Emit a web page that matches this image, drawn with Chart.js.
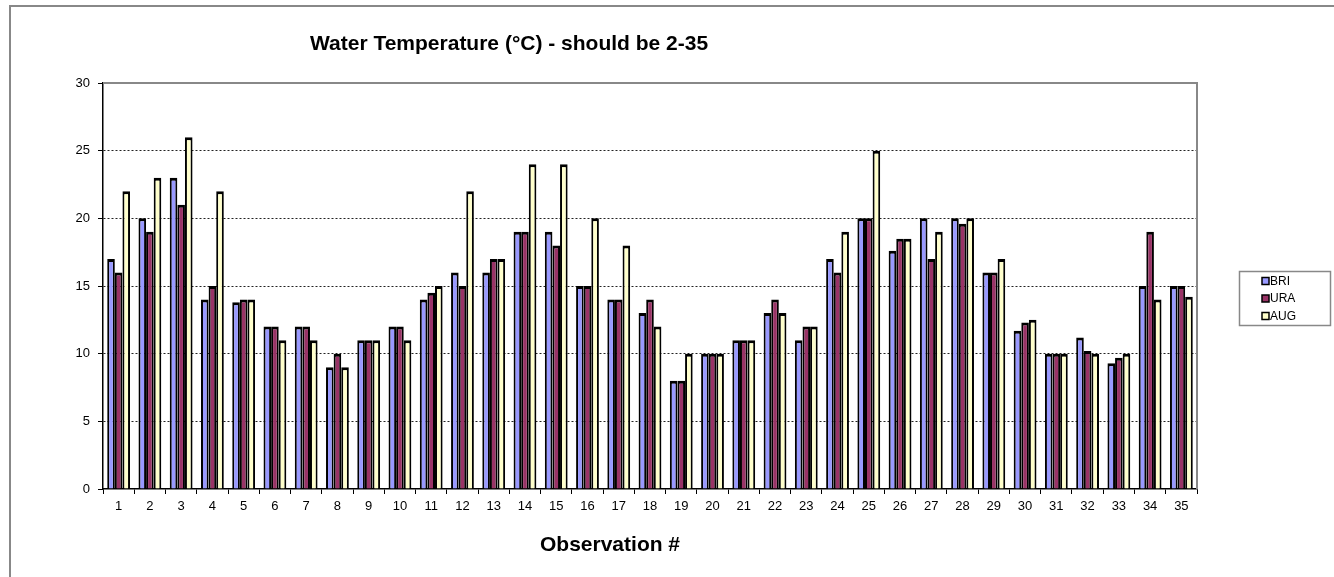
<!DOCTYPE html>
<html>
<head>
<meta charset="utf-8">
<script src="https://cdn.jsdelivr.net/npm/chart.js@4.4.0/dist/chart.umd.min.js"></script>
<style>
  html, body { margin: 0; padding: 0; background: #fff; }
  canvas { display: block; }
</style>
</head>
<body>
<canvas id="temp-chart" width="1334" height="577" style="width:1334px;height:577px"></canvas>
<script>
const observations = ['1','2','3','4','5','6','7','8','9','10','11','12','13','14','15','16','17','18','19','20',
  '21','22','23','24','25','26','27','28','29','30','31','32','33','34','35'];
const briData = [17, 20, 23, 14, 13.8, 12, 12, 9, 11, 12, 14, 16, 16, 19, 19, 15, 14, 13, 8, 10,
  11, 13, 11, 17, 20, 17.6, 20, 20, 16, 11.7, 10, 11.2, 9.3, 15, 15];
const uraData = [16, 19, 21, 15, 14, 12, 12, 10, 11, 12, 14.5, 15, 17, 19, 18, 15, 14, 14, 8, 10,
  11, 14, 12, 16, 20, 18.5, 17, 19.6, 16, 12.3, 10, 10.2, 9.7, 19, 15];
const augData = [22, 23, 26, 22, 14, 11, 11, 9, 11, 11, 15, 22, 17, 24, 24, 20, 18, 12, 10, 10,
  11, 13, 12, 19, 25, 18.5, 19, 20, 17, 12.5, 10, 10, 10, 14, 14.2];
const yTicks = [0, 5, 10, 15, 20, 25, 30];

const titleText = 'Water Temperature (\u00B0C) - should be 2-35';
const xTitleText = 'Observation #';
const baseFont = 'Arial, "Liberation Sans", sans-serif';

// frame, plot border, titles and legend drawn by hand like the Excel original
const excelDecor = {
    id: 'excelDecor',
    beforeDraw(chart) {
        const c = chart.ctx;
        c.save();
        c.fillStyle = '#fff';
        c.fillRect(0, 0, chart.width, chart.height);
        c.strokeStyle = '#888';
        c.lineWidth = 2;
        c.beginPath();
        c.moveTo(10, chart.height + 5);
        c.lineTo(10, 6);
        c.lineTo(chart.width + 5, 6);
        c.stroke();
        c.restore();
    },
    afterDraw(chart) {
        const c = chart.ctx;
        const a = chart.chartArea;
        c.save();
        // plot area top / right border
        c.strokeStyle = '#888';
        c.lineWidth = 2;
        c.beginPath();
        c.moveTo(a.left, a.top);
        c.lineTo(a.right, a.top);
        c.lineTo(a.right, a.bottom);
        c.stroke();

        // titles
        c.fillStyle = '#000';
        c.textBaseline = 'middle';
        c.textAlign = 'left';
        c.font = 'bold 21px ' + baseFont;
        c.fillText(titleText, 310, 44);
        c.fillText(xTitleText, 540, 545);

        // legend
        c.strokeStyle = '#888';
        c.lineWidth = 1.5;
        c.strokeRect(1239.5, 271.5, 91, 54);
        c.font = '12px ' + baseFont;
        chart.data.datasets.forEach((ds, i) => {
            const y = 281 + i * 17.5;
            c.fillStyle = ds.backgroundColor;
            c.fillRect(1262, y - 3.5, 7, 7);
            c.strokeStyle = '#000';
            c.lineWidth = 1.5;
            c.strokeRect(1262, y - 3.5, 7, 7);
            c.fillStyle = '#000';
            c.fillText(ds.label, 1270, y + 0.5);
        });
        c.restore();
    }
};

const barBorder = { top: 3, left: 2, right: 2, bottom: 0 };

const tempChart = new Chart(document.getElementById('temp-chart').getContext('2d'), {
    type: 'bar',
    data: {
        labels: observations,
        datasets: [
            { label: 'BRI', data: briData, backgroundColor: '#9999FF', borderColor: '#000', borderWidth: barBorder },
            { label: 'URA', data: uraData, backgroundColor: '#993366', borderColor: '#000', borderWidth: barBorder },
            { label: 'AUG', data: augData, backgroundColor: '#FFFFCC', borderColor: '#000', borderWidth: barBorder }
        ]
    },
    options: {
        responsive: false,
        animation: false,
        layout: { padding: { left: 0, top: 83, right: 137, bottom: 0 } },
        datasets: {
            bar: { categoryPercentage: 0.73, barPercentage: 1.0, borderSkipped: false }
        },
        scales: {
            x: {
                afterFit: (scale) => { scale.height = 88; },
                grid: {
                    offset: true,
                    drawOnChartArea: false,
                    tickLength: 5,
                    tickColor: '#000'
                },
                border: { color: '#000', width: 1.5 },
                ticks: {
                    color: '#000',
                    font: { family: baseFont, size: 13 },
                    padding: 5,
                    maxRotation: 0,
                    autoSkip: false
                }
            },
            y: {
                min: 0,
                max: 30,
                afterFit: (scale) => { scale.width = 103; },
                afterBuildTicks: (scale) => { scale.ticks = yTicks.map(v => ({ value: v })); },
                grid: {
                    color: (ctx) => (ctx.tick && (ctx.tick.value === 0 || ctx.tick.value === 30)) ? 'rgba(0,0,0,0)' : '#222',
                    lineWidth: 1,
                    tickLength: 5,
                    tickColor: '#000'
                },
                border: { color: '#000', width: 1.5, dash: [2, 2] },
                ticks: {
                    color: '#000',
                    font: { family: baseFont, size: 13 },
                    padding: 8
                }
            }
        },
        plugins: {
            legend: { display: false },
            title: { display: false },
            tooltip: { enabled: false }
        }
    },
    plugins: [excelDecor]
});
</script>
</body>
</html>
